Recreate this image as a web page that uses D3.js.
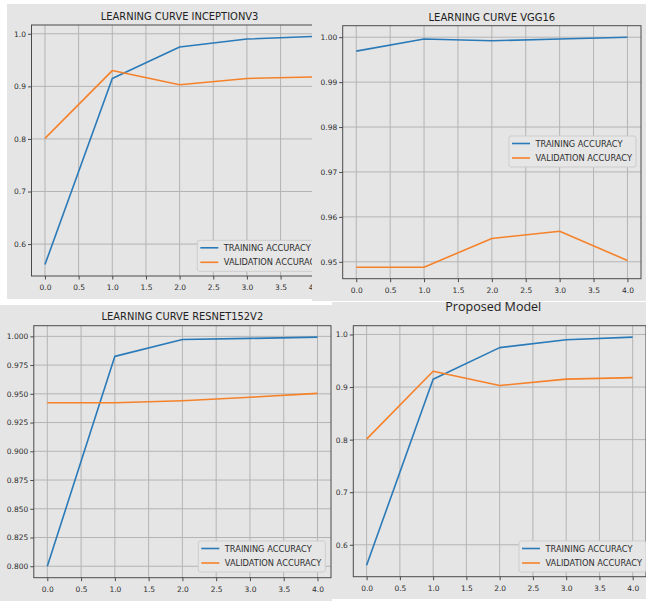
<!DOCTYPE html>
<html><head><meta charset="utf-8">
<script src="https://cdn.jsdelivr.net/npm/d3@7"></script>
<style>html,body{margin:0;padding:0;background:#fff;} svg{display:block}</style>
</head><body>
<svg id="c" width="646" height="601"></svg>
<script>
// ---------- data ----------
const epochs = [0, 1, 2, 3, 4];
const inceptionTrain = [0.561, 0.915, 0.975, 0.990, 0.995];
const inceptionVal   = [0.801, 0.930, 0.903, 0.915, 0.918];
const vggTrain       = [0.9969, 0.9996, 0.9992, 0.9996, 1.0000];
const vggVal         = [0.9488, 0.9488, 0.9552, 0.9568, 0.9503];
const resnetTrain    = [0.800, 0.9826, 0.9973, 0.9982, 0.9993];
const resnetVal      = [0.9422, 0.9422, 0.9440, 0.9470, 0.9504];
const proposedTrain  = [0.561, 0.915, 0.975, 0.990, 0.995];
const proposedVal    = [0.801, 0.930, 0.903, 0.915, 0.918];

const xTicks = [0, 0.5, 1, 1.5, 2, 2.5, 3, 3.5, 4];
const xTickLabels = ["0.0","0.5","1.0","1.5","2.0","2.5","3.0","3.5","4.0"];
const inceptionYTicks = [0.6, 0.7, 0.8, 0.9, 1.0];
const inceptionYLabels = ["0.6","0.7","0.8","0.9","1.0"];
const vggYTicks = [0.95, 0.96, 0.97, 0.98, 0.99, 1.00];
const vggYLabels = ["0.95","0.96","0.97","0.98","0.99","1.00"];
const resnetYTicks = [0.800, 0.825, 0.850, 0.875, 0.900, 0.925, 0.950, 0.975, 1.000];
const resnetYLabels = ["0.800","0.825","0.850","0.875","0.900","0.925","0.950","0.975","1.000"];
const proposedYTicks = [0.6, 0.7, 0.8, 0.9, 1.0];
const proposedYLabels = ["0.6","0.7","0.8","0.9","1.0"];

const titles = ["LEARNING CURVE INCEPTIONV3", "LEARNING CURVE VGG16", "LEARNING CURVE RESNET152V2", "Proposed Model"];
const seriesNames = ["TRAINING ACCURACY", "VALIDATION ACCURACY"];

// ---------- layout / style ----------
const BG = "#e5e5e5", GRID = "#b4b4b4", SPINE = "#4a4a4a", TXT = "#2e2e2e";
const COLORS = ["#2a7ab8", "#f5822a"];
const FONT = "DejaVu Sans";

const panels = [
  {title: titles[0], train: inceptionTrain, val: inceptionVal, yt: inceptionYTicks, yl: inceptionYLabels,
   region: [7, 4, 312, 299], frame: [31.5, 25, 327.7, 276], tx: 179.6, ty: 20, tsize: 9.8, tlen: 157.6, tfont: FONT, legend: [197.3, 240.3]},
  {title: titles[1], train: vggTrain, val: vggVal, yt: vggYTicks, yl: vggYLabels,
   region: [312, 4, 646, 301], frame: [342.7, 25.7, 641, 278.7], tx: 491.9, ty: 20.5, tsize: 9.8, tlen: 126.7, tfont: FONT, legend: [509, 136]},
  {title: titles[2], train: resnetTrain, val: resnetVal, yt: resnetYTicks, yl: resnetYLabels,
   region: [0, 305, 332, 601], frame: [33.8, 325.7, 331, 577.7], tx: 182.4, ty: 320, tsize: 9.8, tlen: 161.6, tfont: FONT, legend: [198.3, 541]},
  {title: titles[3], train: proposedTrain, val: proposedVal, yt: proposedYTicks, yl: proposedYLabels,
   region: [332, 302, 646, 599], frame: [353.3, 325.7, 646, 576.7], tx: 493.3, ty: 311, tsize: 12.2, tlen: 96, tfont: "Open Sans", legend: [519, 541]}
];

const svg = d3.select("#c");
svg.append("rect").attr("width", 646).attr("height", 601).attr("fill", "#fff");
const defs = svg.append("defs");

panels.forEach((p, i) => {
  const [rx0, ry0, rx1, ry1] = p.region;
  const [fx0, fy0, fx1, fy1] = p.frame;
  defs.append("clipPath").attr("id", "clip" + i)
    .append("rect").attr("x", rx0).attr("y", ry0).attr("width", rx1 - rx0).attr("height", ry1 - ry0);
  const g = svg.append("g").attr("clip-path", `url(#clip${i})`);
  g.append("rect").attr("x", rx0).attr("y", ry0).attr("width", rx1 - rx0).attr("height", ry1 - ry0).attr("fill", BG);

  const x = d3.scaleLinear().domain([-0.2, 4.2]).range([fx0, fx1]);
  const all = p.train.concat(p.val);
  const mn = d3.min(all), mx = d3.max(all), pad = (mx - mn) * 0.05;
  const y = d3.scaleLinear().domain([mn - pad, mx + pad]).range([fy1, fy0]);

  // grid
  const grid = g.append("g");
  grid.selectAll("line.gx").data(xTicks).join("line").attr("class", "gx")
    .attr("x1", d => x(d)).attr("x2", d => x(d)).attr("y1", fy0).attr("y2", fy1)
    .attr("stroke", GRID).attr("stroke-width", 1);
  grid.selectAll("line.gy").data(p.yt).join("line").attr("class", "gy")
    .attr("y1", d => y(d)).attr("y2", d => y(d)).attr("x1", fx0).attr("x2", fx1)
    .attr("stroke", GRID).attr("stroke-width", 1);

  // series
  const line = d3.line().x((d, j) => x(epochs[j])).y(d => y(d));
  [p.train, p.val].forEach((s, k) => {
    g.append("path").datum(s).attr("d", line).attr("fill", "none")
      .attr("stroke", COLORS[k]).attr("stroke-width", 1.6).attr("stroke-linejoin", "round");
  });

  // frame
  g.append("rect").attr("x", fx0).attr("y", fy0).attr("width", fx1 - fx0).attr("height", fy1 - fy0)
    .attr("fill", "none").attr("stroke", SPINE).attr("stroke-width", 1);

  // axes
  const xa = d3.axisBottom(x).tickValues(xTicks).tickFormat((d, j) => xTickLabels[j]).tickSize(3.5).tickPadding(5.2);
  const ya = d3.axisLeft(y).tickValues(p.yt).tickFormat((d, j) => p.yl[j]).tickSize(3.5).tickPadding(2);
  const gx = g.append("g").attr("transform", `translate(0,${fy1})`).call(xa);
  const gy = g.append("g").attr("transform", `translate(${fx0},0)`).call(ya);
  [gx, gy].forEach(a => {
    a.select(".domain").remove();
    a.selectAll(".tick line").attr("stroke", SPINE);
    a.selectAll(".tick text").attr("fill", TXT).attr("font-family", FONT).attr("font-size", 7.5);
  });

  // title
  g.append("text").attr("x", p.tx).attr("y", p.ty).attr("text-anchor", "middle")
    .attr("font-family", p.tfont).attr("font-size", p.tsize).attr("fill", "#222")
    .attr("textLength", p.tlen).attr("lengthAdjust", "spacingAndGlyphs").text(p.title);

  // legend
  const [lx, ly] = p.legend;
  const lg = g.append("g");
  lg.append("rect").attr("x", lx).attr("y", ly).attr("width", 127).attr("height", 31).attr("rx", 2)
    .attr("fill", "#e6e6e6").attr("stroke", "#cdcdcd").attr("stroke-width", 1);
  seriesNames.forEach((name, k) => {
    const yy = ly + 7.5 + k * 14.5;
    lg.append("line").attr("x1", lx + 3).attr("x2", lx + 21).attr("y1", yy).attr("y2", yy)
      .attr("stroke", COLORS[k]).attr("stroke-width", 1.6);
    lg.append("text").attr("x", lx + 26.5).attr("y", yy + 3).attr("font-family", FONT).attr("font-size", 8.2)
      .attr("fill", TXT).attr("textLength", k === 0 ? 87 : 96.5).attr("lengthAdjust", "spacingAndGlyphs").text(name);
  });
});
</script>
</body></html>
